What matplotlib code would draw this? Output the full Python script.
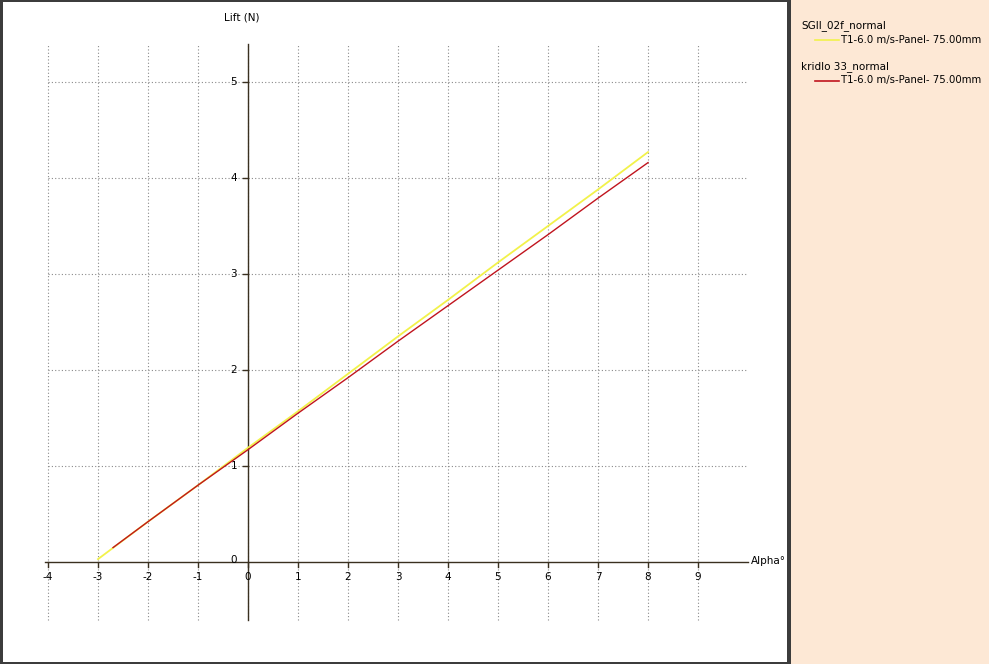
import numpy as np
import matplotlib
matplotlib.use("Agg")
import matplotlib.pyplot as plt
from matplotlib.patches import Rectangle
from matplotlib.lines import Line2D

# Lift polars
alpha_sgii = [-3, -2, -1, 0, 1, 2, 3, 4, 5, 6, 7, 8]
lift_sgii = [0.03, 0.42, 0.80, 1.19, 1.57, 1.96, 2.35, 2.73, 3.12, 3.50, 3.88, 4.27]

alpha_kridlo = [-2.7, -2, -1, 0, 1, 2, 3, 4, 5, 6, 7, 8]
lift_kridlo = [0.15, 0.42, 0.80, 1.17, 1.55, 1.92, 2.30, 2.67, 3.04, 3.41, 3.79, 4.16]

x_ticks = [-4, -3, -2, -1, 0, 1, 2, 3, 4, 5, 6, 7, 8, 9]
y_ticks = [1, 2, 3, 4, 5]

plane_names = ["SGII_02f_normal", "kridlo 33_normal"]
polar_name = "T1-6.0 m/s-Panel- 75.00mm"
line_colors = ["#f2f24a", "#c0141e"]

W, H = 989, 664
fig = plt.figure(figsize=(W / 100, H / 100), dpi=100)
fig.patch.set_facecolor("white")

# plot area: pixel mapping x = 248 + 50*alpha, y = 562 - 96*lift
ax = fig.add_axes([0, 0, 790 / W, 1])
ax.set_xlim(-248 / 50, (790 - 248) / 50)
ax.set_ylim((562 - 664) / 96, 562 / 96)
ax.axis("off")

grid_kw = dict(color="#8a8a8a", lw=0.8, ls=(0, (1, 2)), zorder=1)
y_top, y_bot = 5.40, -0.60
for x in x_ticks:
    ax.plot([x, x], [y_bot, y_top], **grid_kw)
for y in y_ticks:
    ax.plot([-4, 10], [y, y], **grid_kw)

axis_kw = dict(color="#3a3020", lw=1.0, zorder=2)
ax.plot([-4.06, 10], [0, 0], **axis_kw)
ax.plot([0, 0], [y_bot, y_top], **axis_kw)

# tick marks and labels
for x in x_ticks:
    ax.plot([x, x], [0, -0.05], **axis_kw)
    ax.text(x, -0.16, str(x), ha="center", va="center", fontsize=7.5)
for y in y_ticks:
    ax.plot([-0.1, 0], [y, y], **axis_kw)
    ax.text(-0.22, y, str(y), ha="right", va="center", fontsize=7.5)
ax.text(-0.22, 0.02, "0", ha="right", va="center", fontsize=7.5)

ax.text(-0.12, 5.67, "Lift (N)", ha="center", va="center", fontsize=7.5)
ax.text(10.06, 0.01, "Alpha°", ha="left", va="center", fontsize=7.5)

ax.plot(alpha_sgii, lift_sgii, color=line_colors[0], lw=1.3, zorder=3)
ax.plot(alpha_kridlo, lift_kridlo, color=line_colors[1], lw=1.0, zorder=4)

# frame and legend panel
fig.patches.append(Rectangle((790 / W, 0), 1 - 790 / W, 1, transform=fig.transFigure,
                             facecolor="#fde8d5", edgecolor="none", zorder=0))
dark = "#3c3c3c"
for (x0, y0, w, h) in [(0, 0, 3, H), (0, 0, 790, 2), (0, H - 2, 790, 2), (787, 0, 4, H)]:
    fig.patches.append(Rectangle((x0 / W, 1 - (y0 + h) / H), w / W, h / H,
                                 transform=fig.transFigure, facecolor=dark,
                                 edgecolor="none", zorder=5))

for i, name in enumerate(plane_names):
    ty = 26 + 41 * i
    fig.text(801 / W, 1 - ty / H, name, ha="left", va="center", fontsize=7.5)
    ly = 1 - (ty + 13.5) / H
    fig.lines.append(Line2D([815 / W, 839 / W], [ly, ly], transform=fig.transFigure,
                            color=line_colors[i], lw=1.2))
    fig.text(841 / W, ly, polar_name, ha="left", va="center", fontsize=7.3)

fig.savefig("out.png", dpi=100)
